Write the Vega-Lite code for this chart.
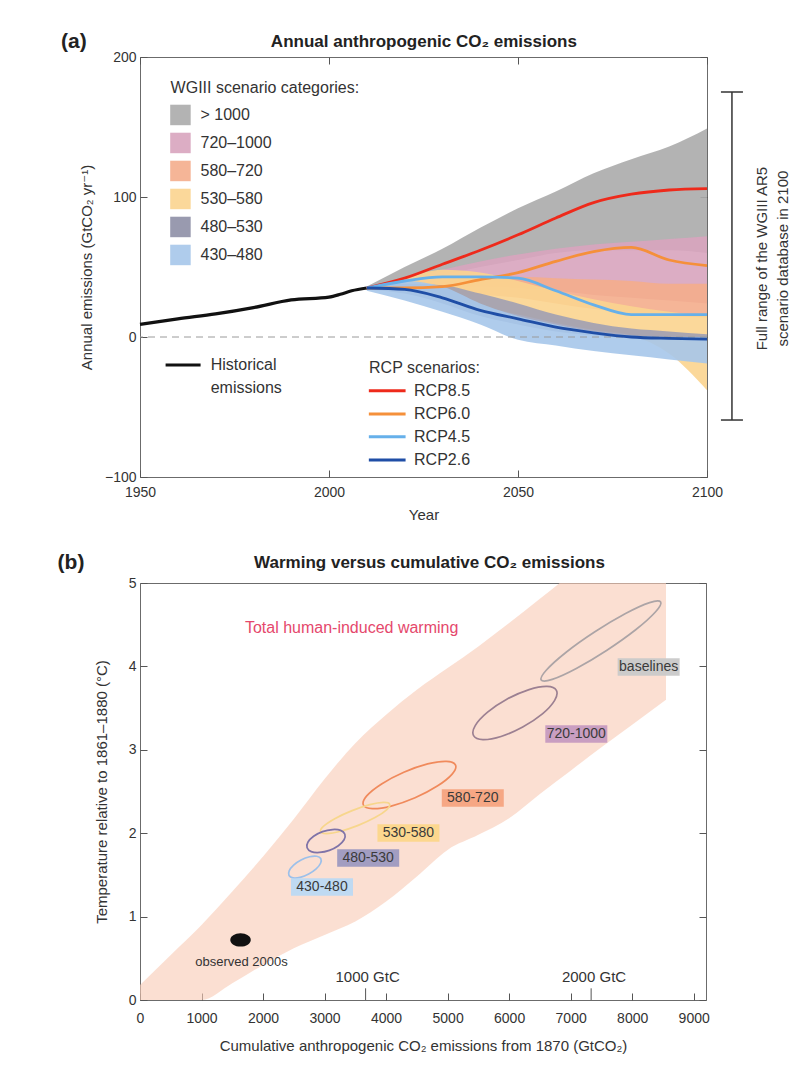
{
  "$schema": "https://vega.github.io/schema/vega-lite/v6.json",
  "background": "white",
  "padding": {"left": 57, "top": 30, "right": 5, "bottom": 5},
  "spacing": 28,
  "config": {
    "font": "Liberation Sans Narrow, Liberation Sans, DejaVu Sans, sans-serif",
    "view": {"stroke": "#6b6b6b", "strokeWidth": 1},
    "axis": {"labelFontSize": 14, "titleFontSize": 15, "labelColor": "#333", "titleColor": "#333", "titleFontWeight": "normal", "domain": false, "grid": false, "tickColor": "#555", "tickSize": -7, "labelPadding": 11, "labelFlush": false},
    "text": {"font": "Liberation Sans Narrow, Liberation Sans, DejaVu Sans, sans-serif"}
  },
  "resolve": {"scale": {"x": "independent", "y": "independent", "fill": "independent", "stroke": "independent", "color": "independent"}},
  "datasets": {
    "hist": [
      {"year": 1950, "v": 9}, {"year": 1960, "v": 13}, {"year": 1970, "v": 16.5}, {"year": 1980, "v": 21},
      {"year": 1990, "v": 26.5}, {"year": 2000, "v": 28.5}, {"year": 2003, "v": 30.5}, {"year": 2006, "v": 33}, {"year": 2010, "v": 35}
    ],
    "rcp": [
      {"rcp": "RCP8.5", "year": 2010, "v": 35}, {"rcp": "RCP8.5", "year": 2020, "v": 42}, {"rcp": "RCP8.5", "year": 2030, "v": 52}, {"rcp": "RCP8.5", "year": 2040, "v": 62}, {"rcp": "RCP8.5", "year": 2050, "v": 73}, {"rcp": "RCP8.5", "year": 2060, "v": 85}, {"rcp": "RCP8.5", "year": 2070, "v": 96}, {"rcp": "RCP8.5", "year": 2080, "v": 102}, {"rcp": "RCP8.5", "year": 2090, "v": 105}, {"rcp": "RCP8.5", "year": 2100, "v": 106},
      {"rcp": "RCP6.0", "year": 2010, "v": 35}, {"rcp": "RCP6.0", "year": 2020, "v": 35}, {"rcp": "RCP6.0", "year": 2030, "v": 36}, {"rcp": "RCP6.0", "year": 2040, "v": 41}, {"rcp": "RCP6.0", "year": 2050, "v": 46}, {"rcp": "RCP6.0", "year": 2060, "v": 54}, {"rcp": "RCP6.0", "year": 2070, "v": 61}, {"rcp": "RCP6.0", "year": 2080, "v": 64}, {"rcp": "RCP6.0", "year": 2090, "v": 55}, {"rcp": "RCP6.0", "year": 2100, "v": 51},
      {"rcp": "RCP4.5", "year": 2010, "v": 35}, {"rcp": "RCP4.5", "year": 2020, "v": 40}, {"rcp": "RCP4.5", "year": 2030, "v": 43}, {"rcp": "RCP4.5", "year": 2040, "v": 43}, {"rcp": "RCP4.5", "year": 2050, "v": 42}, {"rcp": "RCP4.5", "year": 2060, "v": 33}, {"rcp": "RCP4.5", "year": 2070, "v": 23}, {"rcp": "RCP4.5", "year": 2080, "v": 16}, {"rcp": "RCP4.5", "year": 2090, "v": 16}, {"rcp": "RCP4.5", "year": 2100, "v": 16},
      {"rcp": "RCP2.6", "year": 2010, "v": 35}, {"rcp": "RCP2.6", "year": 2020, "v": 34}, {"rcp": "RCP2.6", "year": 2030, "v": 28}, {"rcp": "RCP2.6", "year": 2040, "v": 19}, {"rcp": "RCP2.6", "year": 2050, "v": 13}, {"rcp": "RCP2.6", "year": 2060, "v": 7}, {"rcp": "RCP2.6", "year": 2070, "v": 3}, {"rcp": "RCP2.6", "year": 2080, "v": 0}, {"rcp": "RCP2.6", "year": 2090, "v": -1}, {"rcp": "RCP2.6", "year": 2100, "v": -1.5}
    ],
    "bands": [
      {"cat": "gt1000", "year": 2010, "lo": 34, "hi": 36}, {"cat": "gt1000", "year": 2020, "lo": 38, "hi": 50}, {"cat": "gt1000", "year": 2030, "lo": 44, "hi": 63}, {"cat": "gt1000", "year": 2040, "lo": 50, "hi": 78}, {"cat": "gt1000", "year": 2050, "lo": 55, "hi": 92}, {"cat": "gt1000", "year": 2060, "lo": 60, "hi": 104}, {"cat": "gt1000", "year": 2070, "lo": 62, "hi": 117}, {"cat": "gt1000", "year": 2080, "lo": 62, "hi": 127}, {"cat": "gt1000", "year": 2090, "lo": 62, "hi": 136}, {"cat": "gt1000", "year": 2100, "lo": 60, "hi": 149},
      {"cat": "720", "year": 2010, "lo": 34, "hi": 35}, {"cat": "720", "year": 2020, "lo": 35, "hi": 41}, {"cat": "720", "year": 2030, "lo": 36, "hi": 48}, {"cat": "720", "year": 2040, "lo": 36, "hi": 54}, {"cat": "720", "year": 2050, "lo": 35, "hi": 59}, {"cat": "720", "year": 2060, "lo": 33, "hi": 63}, {"cat": "720", "year": 2070, "lo": 30, "hi": 66}, {"cat": "720", "year": 2080, "lo": 28, "hi": 68}, {"cat": "720", "year": 2090, "lo": 26, "hi": 70}, {"cat": "720", "year": 2100, "lo": 24, "hi": 72},
      {"cat": "580", "year": 2010, "lo": 34, "hi": 35}, {"cat": "580", "year": 2020, "lo": 33, "hi": 38}, {"cat": "580", "year": 2030, "lo": 31, "hi": 41}, {"cat": "580", "year": 2040, "lo": 30, "hi": 43}, {"cat": "580", "year": 2050, "lo": 28, "hi": 43}, {"cat": "580", "year": 2060, "lo": 24, "hi": 42}, {"cat": "580", "year": 2070, "lo": 20, "hi": 41}, {"cat": "580", "year": 2080, "lo": 17, "hi": 40}, {"cat": "580", "year": 2090, "lo": 15, "hi": 38}, {"cat": "580", "year": 2100, "lo": 14, "hi": 38},
      {"cat": "530", "year": 2010, "lo": 34, "hi": 35}, {"cat": "530", "year": 2020, "lo": 33, "hi": 42}, {"cat": "530", "year": 2030, "lo": 28, "hi": 48}, {"cat": "530", "year": 2040, "lo": 22, "hi": 46}, {"cat": "530", "year": 2050, "lo": 16, "hi": 40}, {"cat": "530", "year": 2060, "lo": 10, "hi": 33}, {"cat": "530", "year": 2070, "lo": 5, "hi": 27}, {"cat": "530", "year": 2080, "lo": 1, "hi": 22}, {"cat": "530", "year": 2090, "lo": -12, "hi": 18}, {"cat": "530", "year": 2100, "lo": -38, "hi": 15},
      {"cat": "480", "year": 2010, "lo": 34, "hi": 35}, {"cat": "480", "year": 2020, "lo": 31, "hi": 38}, {"cat": "480", "year": 2030, "lo": 24, "hi": 37}, {"cat": "480", "year": 2040, "lo": 15, "hi": 31}, {"cat": "480", "year": 2050, "lo": 9, "hi": 24}, {"cat": "480", "year": 2060, "lo": 4, "hi": 16}, {"cat": "480", "year": 2070, "lo": 1, "hi": 10}, {"cat": "480", "year": 2080, "lo": -1, "hi": 6}, {"cat": "480", "year": 2090, "lo": -2, "hi": 4}, {"cat": "480", "year": 2100, "lo": -3, "hi": 2},
      {"cat": "430", "year": 2010, "lo": 33, "hi": 36}, {"cat": "430", "year": 2020, "lo": 26, "hi": 40}, {"cat": "430", "year": 2030, "lo": 18, "hi": 36}, {"cat": "430", "year": 2040, "lo": 9, "hi": 24}, {"cat": "430", "year": 2050, "lo": -2, "hi": 15}, {"cat": "430", "year": 2060, "lo": -6, "hi": 9}, {"cat": "430", "year": 2070, "lo": -10, "hi": 4}, {"cat": "430", "year": 2080, "lo": -13, "hi": 1}, {"cat": "430", "year": 2090, "lo": -16, "hi": 0}, {"cat": "430", "year": 2100, "lo": -19, "hi": 0}
    ],
    "legA": [
      {"cat": "gt1000", "y": 158.6}, {"cat": "720", "y": 138.6}, {"cat": "580", "y": 118.6},
      {"cat": "530", "y": 98.6}, {"cat": "480", "y": 78.6}, {"cat": "430", "y": 58.6}
    ],
    "txtA": [
      {"x": 1958.1, "y": 177.9, "t": "WGIII scenario categories:"},
      {"x": 1966.0, "y": 158.6, "t": "> 1000"},
      {"x": 1966.0, "y": 138.6, "t": "720–1000"},
      {"x": 1966.0, "y": 118.6, "t": "580–720"},
      {"x": 1966.0, "y": 98.6, "t": "530–580"},
      {"x": 1966.0, "y": 78.6, "t": "480–530"},
      {"x": 1966.0, "y": 58.6, "t": "430–480"},
      {"x": 1968.7, "y": -20.0, "t": "Historical"},
      {"x": 1968.7, "y": -36.7, "t": "emissions"},
      {"x": 2010.6, "y": -22.4, "t": "RCP scenarios:"},
      {"x": 2022.5, "y": -38.4, "t": "RCP8.5"},
      {"x": 2022.5, "y": -55.0, "t": "RCP6.0"},
      {"x": 2022.5, "y": -71.2, "t": "RCP4.5"},
      {"x": 2022.5, "y": -87.9, "t": "RCP2.6"}
    ],
    "rcpLeg": [
      {"rcp": "RCP8.5", "y": -38.4}, {"rcp": "RCP6.0", "y": -55.0}, {"rcp": "RCP4.5", "y": -71.2}, {"rcp": "RCP2.6", "y": -87.9}
    ],
    "warm": [
      {"E": 0, "lo": 0, "hi": 0.18}, {"E": 500, "lo": 0, "hi": 0.54}, {"E": 1000, "lo": 0, "hi": 0.9}, {"E": 1500, "lo": 0.2, "hi": 1.3},
      {"E": 2000, "lo": 0.42, "hi": 1.72}, {"E": 2500, "lo": 0.62, "hi": 2.17}, {"E": 3000, "lo": 0.78, "hi": 2.65}, {"E": 3500, "lo": 0.94, "hi": 3.08},
      {"E": 4000, "lo": 1.18, "hi": 3.42}, {"E": 4500, "lo": 1.48, "hi": 3.72}, {"E": 5000, "lo": 1.8, "hi": 3.98}, {"E": 5500, "lo": 1.98, "hi": 4.24},
      {"E": 6000, "lo": 2.18, "hi": 4.52}, {"E": 6500, "lo": 2.47, "hi": 4.81}, {"E": 7000, "lo": 2.75, "hi": 5.1}, {"E": 7500, "lo": 3.03, "hi": 5.35},
      {"E": 8000, "lo": 3.3, "hi": 5.6}, {"E": 8550, "lo": 3.6, "hi": 5.9}
    ],
    "ell": [
      {"e": "baselines", "i": 0, "E": 8463, "T": 4.772}, {"e": "baselines", "i": 1, "E": 8381, "T": 4.655}, {"e": "baselines", "i": 2, "E": 8062, "T": 4.442}, {"e": "baselines", "i": 3, "E": 7590, "T": 4.194}, {"e": "baselines", "i": 4, "E": 7092, "T": 3.975}, {"e": "baselines", "i": 5, "E": 6701, "T": 3.844}, {"e": "baselines", "i": 6, "E": 6521, "T": 3.837}, {"e": "baselines", "i": 7, "E": 6603, "T": 3.954}, {"e": "baselines", "i": 8, "E": 6922, "T": 4.167}, {"e": "baselines", "i": 9, "E": 7394, "T": 4.415}, {"e": "baselines", "i": 10, "E": 7892, "T": 4.634}, {"e": "baselines", "i": 11, "E": 8283, "T": 4.765},
      {"e": "720-1000", "i": 0, "E": 6768, "T": 3.712}, {"e": "720-1000", "i": 1, "E": 6740, "T": 3.592}, {"e": "720-1000", "i": 2, "E": 6541, "T": 3.43}, {"e": "720-1000", "i": 3, "E": 6221, "T": 3.273}, {"e": "720-1000", "i": 4, "E": 5868, "T": 3.16}, {"e": "720-1000", "i": 5, "E": 5574, "T": 3.122}, {"e": "720-1000", "i": 6, "E": 5422, "T": 3.17}, {"e": "720-1000", "i": 7, "E": 5449, "T": 3.29}, {"e": "720-1000", "i": 8, "E": 5650, "T": 3.451}, {"e": "720-1000", "i": 9, "E": 5969, "T": 3.609}, {"e": "720-1000", "i": 10, "E": 6324, "T": 3.722}, {"e": "720-1000", "i": 11, "E": 6616, "T": 3.76},
      {"e": "580-720", "i": 0, "E": 5129, "T": 2.817}, {"e": "580-720", "i": 1, "E": 5074, "T": 2.709}, {"e": "580-720", "i": 2, "E": 4832, "T": 2.565}, {"e": "580-720", "i": 3, "E": 4471, "T": 2.424}, {"e": "580-720", "i": 4, "E": 4083, "T": 2.325}, {"e": "580-720", "i": 5, "E": 3776, "T": 2.294}, {"e": "580-720", "i": 6, "E": 3631, "T": 2.338}, {"e": "580-720", "i": 7, "E": 3685, "T": 2.447}, {"e": "580-720", "i": 8, "E": 3927, "T": 2.591}, {"e": "580-720", "i": 9, "E": 4288, "T": 2.731}, {"e": "580-720", "i": 10, "E": 4675, "T": 2.831}, {"e": "580-720", "i": 11, "E": 4982, "T": 2.862},
      {"e": "530-580", "i": 0, "E": 4059, "T": 2.347}, {"e": "530-580", "i": 1, "E": 4008, "T": 2.281}, {"e": "530-580", "i": 2, "E": 3820, "T": 2.187}, {"e": "530-580", "i": 3, "E": 3546, "T": 2.094}, {"e": "530-580", "i": 4, "E": 3258, "T": 2.023}, {"e": "530-580", "i": 5, "E": 3034, "T": 1.995}, {"e": "530-580", "i": 6, "E": 2935, "T": 2.018}, {"e": "530-580", "i": 7, "E": 2985, "T": 2.084}, {"e": "530-580", "i": 8, "E": 3173, "T": 2.177}, {"e": "530-580", "i": 9, "E": 3448, "T": 2.271}, {"e": "530-580", "i": 10, "E": 3735, "T": 2.342}, {"e": "530-580", "i": 11, "E": 3959, "T": 2.369},
      {"e": "480-530", "i": 0, "E": 3330, "T": 1.988}, {"e": "480-530", "i": 1, "E": 3317, "T": 1.921}, {"e": "480-530", "i": 2, "E": 3224, "T": 1.85}, {"e": "480-530", "i": 3, "E": 3078, "T": 1.794}, {"e": "480-530", "i": 4, "E": 2917, "T": 1.769}, {"e": "480-530", "i": 5, "E": 2784, "T": 1.779}, {"e": "480-530", "i": 6, "E": 2716, "T": 1.825}, {"e": "480-530", "i": 7, "E": 2729, "T": 1.892}, {"e": "480-530", "i": 8, "E": 2822, "T": 1.963}, {"e": "480-530", "i": 9, "E": 2967, "T": 2.019}, {"e": "480-530", "i": 10, "E": 3129, "T": 2.044}, {"e": "480-530", "i": 11, "E": 3262, "T": 2.034},
      {"e": "430-480", "i": 0, "E": 2938, "T": 1.697}, {"e": "430-480", "i": 1, "E": 2935, "T": 1.64}, {"e": "430-480", "i": 2, "E": 2863, "T": 1.572}, {"e": "430-480", "i": 3, "E": 2742, "T": 1.511}, {"e": "430-480", "i": 4, "E": 2603, "T": 1.471}, {"e": "430-480", "i": 5, "E": 2487, "T": 1.464}, {"e": "430-480", "i": 6, "E": 2422, "T": 1.493}, {"e": "430-480", "i": 7, "E": 2425, "T": 1.549}, {"e": "430-480", "i": 8, "E": 2497, "T": 1.618}, {"e": "430-480", "i": 9, "E": 2618, "T": 1.679}, {"e": "430-480", "i": 10, "E": 2757, "T": 1.718}, {"e": "430-480", "i": 11, "E": 2873, "T": 1.724}
    ],
    "labB": [
      {"lab": "baselines", "E": 8268, "T": 3.993}, {"lab": "720-1000", "E": 7092, "T": 3.189}, {"lab": "580-720", "E": 5409, "T": 2.422},
      {"lab": "530-580", "E": 4363, "T": 2.002}, {"lab": "480-530", "E": 3709, "T": 1.703}, {"lab": "430-480", "E": 2958, "T": 1.355}
    ]
  },
  "vconcat": [
    {
      "width": 567,
      "height": 420,
      "resolve": {"axis": {"x": "independent", "y": "independent"}},
      "layer": [
        {
          "data": {"name": "bands"},
          "transform": [{"filter": "datum.cat === 'gt1000'"}],
          "mark": {"type": "area", "color": "#ababab", "opacity": 0.9, "interpolate": "monotone"},
          "encoding": {
            "x": {"field": "year", "type": "quantitative", "scale": {"domain": [1950, 2100], "nice": false, "zero": false},
                  "axis": {"orient": "bottom", "values": [1950, 2000, 2050, 2100], "format": "d", "title": "Year", "labelPadding": 15, "titlePadding": 8}},
            "y": {"field": "lo", "type": "quantitative", "scale": {"domain": [-100, 200], "nice": false, "zero": false},
                  "axis": {"orient": "left", "values": [-100, 0, 100, 200], "title": "Annual emissions (GtCO₂ yr⁻¹)", "titlePadding": 10}},
            "y2": {"field": "hi"}
          }
        },
        {
          "data": {"name": "bands"},
          "transform": [{"filter": "datum.cat === '720'"}],
          "mark": {"type": "area", "color": "#d8a4be", "opacity": 0.9, "interpolate": "monotone"},
          "encoding": {"x": {"field": "year", "type": "quantitative", "axis": null}, "y": {"field": "lo", "type": "quantitative", "axis": null}, "y2": {"field": "hi"}}
        },
        {
          "data": {"name": "bands"},
          "transform": [{"filter": "datum.cat === '580'"}],
          "mark": {"type": "area", "color": "#f4ad8c", "opacity": 0.9, "interpolate": "monotone"},
          "encoding": {"x": {"field": "year", "type": "quantitative", "axis": null}, "y": {"field": "lo", "type": "quantitative", "axis": null}, "y2": {"field": "hi"}}
        },
        {
          "data": {"name": "bands"},
          "transform": [{"filter": "datum.cat === '530'"}],
          "mark": {"type": "area", "color": "#fbd48f", "opacity": 0.9, "interpolate": "monotone"},
          "encoding": {"x": {"field": "year", "type": "quantitative", "axis": null}, "y": {"field": "lo", "type": "quantitative", "axis": null}, "y2": {"field": "hi"}}
        },
        {
          "data": {"name": "bands"},
          "transform": [{"filter": "datum.cat === '480'"}],
          "mark": {"type": "area", "color": "#9a9cb4", "opacity": 0.85, "interpolate": "monotone"},
          "encoding": {"x": {"field": "year", "type": "quantitative", "axis": null}, "y": {"field": "lo", "type": "quantitative", "axis": null}, "y2": {"field": "hi"}}
        },
        {
          "data": {"name": "bands"},
          "transform": [{"filter": "datum.cat === '430'"}],
          "mark": {"type": "area", "color": "#a6c7ea", "opacity": 0.9, "interpolate": "monotone"},
          "encoding": {"x": {"field": "year", "type": "quantitative", "axis": null}, "y": {"field": "lo", "type": "quantitative", "axis": null}, "y2": {"field": "hi"}}
        },
        {
          "data": {"values": [{"v": 0}]},
          "mark": {"type": "rule", "color": "#9a9a9a", "strokeDash": [7, 5], "strokeWidth": 1},
          "encoding": {"y": {"field": "v", "type": "quantitative", "axis": null}}
        },
        {
          "data": {"name": "hist"},
          "mark": {"type": "line", "color": "#111111", "strokeWidth": 3.2, "interpolate": "monotone"},
          "encoding": {"x": {"field": "year", "type": "quantitative", "axis": null}, "y": {"field": "v", "type": "quantitative", "axis": null}}
        },
        {
          "data": {"name": "rcp"},
          "mark": {"type": "line", "strokeWidth": 2.8, "interpolate": "monotone"},
          "encoding": {
            "x": {"field": "year", "type": "quantitative", "axis": null},
            "y": {"field": "v", "type": "quantitative", "axis": null},
            "stroke": {"field": "rcp", "type": "nominal", "scale": {"domain": ["RCP8.5", "RCP6.0", "RCP4.5", "RCP2.6"], "range": ["#ee2a1b", "#f5903a", "#66b0ea", "#1f4ea6"]}, "legend": null}
          }
        },
        {
          "data": {"name": "legA"},
          "mark": {"type": "point", "shape": "square", "size": 420, "filled": true, "opacity": 0.9},
          "encoding": {
            "x": {"datum": 1960.7, "type": "quantitative", "axis": null},
            "y": {"field": "y", "type": "quantitative", "axis": null},
            "fill": {"field": "cat", "type": "nominal", "scale": {"domain": ["gt1000", "720", "580", "530", "480", "430"], "range": ["#ababab", "#d8a4be", "#f4ad8c", "#fbd48f", "#8e8fa6", "#a6c7ea"]}, "legend": null}
          }
        },
        {
          "data": {"name": "txtA"},
          "mark": {"type": "text", "align": "left", "baseline": "middle", "fontSize": 16, "color": "#333333"},
          "encoding": {"x": {"field": "x", "type": "quantitative", "axis": null}, "y": {"field": "y", "type": "quantitative", "axis": null}, "text": {"field": "t"}}
        },
        {
          "data": {"values": [{"x": 1961.4, "y": -20.0}]},
          "mark": {"type": "point", "shape": "stroke", "size": 1225, "strokeWidth": 3, "color": "#111111", "filled": false, "opacity": 1},
          "encoding": {"x": {"field": "x", "type": "quantitative", "axis": null}, "y": {"field": "y", "type": "quantitative", "axis": null}}
        },
        {
          "data": {"name": "rcpLeg"},
          "mark": {"type": "point", "shape": "stroke", "size": 1350, "strokeWidth": 3, "filled": false, "opacity": 1},
          "encoding": {
            "x": {"datum": 2015.4, "type": "quantitative", "axis": null},
            "y": {"field": "y", "type": "quantitative", "axis": null},
            "stroke": {"field": "rcp", "type": "nominal", "legend": null}
          }
        },
        {
          "data": {"values": [{"x": 2106.6, "y1": 175, "y2": -59.3}]},
          "mark": {"type": "rule", "color": "#333333", "strokeWidth": 1.5},
          "encoding": {"x": {"field": "x", "type": "quantitative", "axis": null}, "y": {"field": "y1", "type": "quantitative", "axis": null}, "y2": {"field": "y2"}}
        },
        {
          "data": {"values": [{"x": 2106.6, "y": 175}, {"x": 2106.6, "y": -59.3}]},
          "mark": {"type": "point", "shape": "stroke", "size": 484, "strokeWidth": 1.5, "color": "#333333", "filled": false, "opacity": 1},
          "encoding": {"x": {"field": "x", "type": "quantitative", "axis": null}, "y": {"field": "y", "type": "quantitative", "axis": null}}
        },
        {
          "data": {"values": [{"x": 2114.5, "y": 56, "t": "Full range of the WGIII AR5"}, {"x": 2120.1, "y": 56, "t": "scenario database in 2100"}]},
          "mark": {"type": "text", "angle": 270, "align": "center", "baseline": "middle", "fontSize": 15, "color": "#333333"},
          "encoding": {"x": {"field": "x", "type": "quantitative", "axis": null}, "y": {"field": "y", "type": "quantitative", "axis": null}, "text": {"field": "t"}}
        },
        {
          "data": {"values": [{"x": 1929.1, "y": 210.8, "t": "(a)"}]},
          "mark": {"type": "text", "align": "left", "baseline": "middle", "fontSize": 21, "fontWeight": "bold", "color": "#222222"},
          "encoding": {"x": {"field": "x", "type": "quantitative", "axis": null}, "y": {"field": "y", "type": "quantitative", "axis": null}, "text": {"field": "t"}}
        },
        {
          "data": {"values": [{"x": 2025.1, "y": 210.8, "t": "Annual anthropogenic CO₂ emissions"}]},
          "mark": {"type": "text", "align": "center", "baseline": "middle", "fontSize": 17, "fontWeight": "bold", "color": "#222222"},
          "encoding": {"x": {"field": "x", "type": "quantitative", "axis": null}, "y": {"field": "y", "type": "quantitative", "axis": null}, "text": {"field": "t"}}
        },
        {
          "data": {"values": [{"x": 2000, "y": 0}]},
          "mark": {"type": "point", "opacity": 0},
          "encoding": {
            "x": {"field": "x", "type": "quantitative", "axis": {"orient": "top", "values": [1950, 2000, 2050, 2100], "labels": false, "title": null}},
            "y": {"field": "y", "type": "quantitative", "axis": {"orient": "right", "values": [-100, 0, 100, 200], "labels": false, "title": null}}
          }
        }
      ]
    },
    {
      "width": 566,
      "height": 417,
      "resolve": {"axis": {"x": "independent", "y": "independent"}},
      "layer": [
        {
          "data": {"name": "warm"},
          "mark": {"type": "area", "color": "#f9cbb7", "opacity": 0.62, "interpolate": "monotone", "clip": true},
          "encoding": {
            "x": {"field": "E", "type": "quantitative", "scale": {"domain": [0, 9200], "nice": false, "zero": false},
                  "axis": {"orient": "bottom", "values": [0, 1000, 2000, 3000, 4000, 5000, 6000, 7000, 8000, 9000], "format": "d", "title": "Cumulative anthropogenic CO₂ emissions from 1870  (GtCO₂)", "labelPadding": 18, "titlePadding": 13}},
            "y": {"field": "lo", "type": "quantitative", "scale": {"domain": [0, 5], "nice": false, "zero": false},
                  "axis": {"orient": "left", "values": [0, 1, 2, 3, 4, 5], "title": "Temperature relative to 1861–1880 (°C)", "titlePadding": 19}},
            "y2": {"field": "hi"}
          }
        },
        {
          "data": {"name": "ell"},
          "mark": {"type": "line", "interpolate": "cardinal-closed", "strokeWidth": 1.7},
          "encoding": {
            "x": {"field": "E", "type": "quantitative", "axis": null},
            "y": {"field": "T", "type": "quantitative", "axis": null},
            "order": {"field": "i", "type": "quantitative"},
            "stroke": {"field": "e", "type": "nominal", "scale": {"domain": ["baselines", "720-1000", "580-720", "530-580", "480-530", "430-480"], "range": ["#aca4a6", "#9c8092", "#f08a5c", "#f7d68c", "#7f73a8", "#9cc0ea"]}, "legend": null}
          }
        },
        {
          "data": {"name": "labB"},
          "mark": {"type": "point", "shape": "M-1,-0.28H1V0.28H-1Z", "size": 3844, "filled": true, "opacity": 0.95, "strokeWidth": 0},
          "encoding": {
            "x": {"field": "E", "type": "quantitative", "axis": null},
            "y": {"field": "T", "type": "quantitative", "axis": null},
            "fill": {"field": "lab", "type": "nominal", "scale": {"domain": ["baselines", "720-1000", "580-720", "530-580", "480-530", "430-480"], "range": ["#c9c9c9", "#c69ac0", "#f5a37f", "#fcd68a", "#9d99c0", "#bcd9f3"]}, "legend": null}
          }
        },
        {
          "data": {"name": "labB"},
          "mark": {"type": "text", "align": "center", "baseline": "middle", "fontSize": 14, "color": "#3a3a3a"},
          "encoding": {"x": {"field": "E", "type": "quantitative", "axis": null}, "y": {"field": "T", "type": "quantitative", "axis": null}, "text": {"field": "lab"}}
        },
        {
          "data": {"values": [{"E": 1634, "T": 0.72}]},
          "mark": {"type": "point", "shape": "M-1,0A1,0.65,0,1,1,1,0A1,0.65,0,1,1,-1,0Z", "size": 420, "filled": true, "color": "#111111", "opacity": 1},
          "encoding": {"x": {"field": "E", "type": "quantitative", "axis": null}, "y": {"field": "T", "type": "quantitative", "axis": null}}
        },
        {
          "data": {"values": [{"E": 1650, "T": 0.456, "t": "observed 2000s"}]},
          "mark": {"type": "text", "align": "center", "baseline": "middle", "fontSize": 13, "color": "#333333"},
          "encoding": {"x": {"field": "E", "type": "quantitative", "axis": null}, "y": {"field": "T", "type": "quantitative", "axis": null}, "text": {"field": "t"}}
        },
        {
          "data": {"values": [{"E": 3700, "T": 0.28, "t": "1000 GtC"}, {"E": 7380, "T": 0.28, "t": "2000 GtC"}]},
          "mark": {"type": "text", "align": "center", "baseline": "middle", "fontSize": 15, "color": "#333333"},
          "encoding": {"x": {"field": "E", "type": "quantitative", "axis": null}, "y": {"field": "T", "type": "quantitative", "axis": null}, "text": {"field": "t"}}
        },
        {
          "data": {"values": [{"E": 3667, "T0": 0, "T1": 0.14}, {"E": 7333, "T0": 0, "T1": 0.14}]},
          "mark": {"type": "rule", "color": "#555555", "strokeWidth": 1},
          "encoding": {"x": {"field": "E", "type": "quantitative", "axis": null}, "y": {"field": "T0", "type": "quantitative", "axis": null}, "y2": {"field": "T1"}}
        },
        {
          "data": {"values": [{"E": 3440, "T": 4.46, "t": "Total human-induced warming"}]},
          "mark": {"type": "text", "align": "center", "baseline": "middle", "fontSize": 16, "color": "#e5486c"},
          "encoding": {"x": {"field": "E", "type": "quantitative", "axis": null}, "y": {"field": "T", "type": "quantitative", "axis": null}, "text": {"field": "t"}}
        },
        {
          "data": {"values": [{"E": -1340, "T": 5.24, "t": "(b)"}]},
          "mark": {"type": "text", "align": "left", "baseline": "middle", "fontSize": 21, "fontWeight": "bold", "color": "#222222"},
          "encoding": {"x": {"field": "E", "type": "quantitative", "axis": null}, "y": {"field": "T", "type": "quantitative", "axis": null}, "text": {"field": "t"}}
        },
        {
          "data": {"values": [{"E": 4706, "T": 5.24, "t": "Warming versus cumulative CO₂ emissions"}]},
          "mark": {"type": "text", "align": "center", "baseline": "middle", "fontSize": 17, "fontWeight": "bold", "color": "#222222"},
          "encoding": {"x": {"field": "E", "type": "quantitative", "axis": null}, "y": {"field": "T", "type": "quantitative", "axis": null}, "text": {"field": "t"}}
        },
        {
          "data": {"values": [{"E": 4000, "T": 2}]},
          "mark": {"type": "point", "opacity": 0},
          "encoding": {
            "x": {"field": "E", "type": "quantitative", "axis": null},
            "y": {"field": "T", "type": "quantitative", "axis": {"orient": "right", "values": [0, 1, 2, 3, 4, 5], "labels": false, "title": null}}
          }
        }
      ]
    }
  ]
}
